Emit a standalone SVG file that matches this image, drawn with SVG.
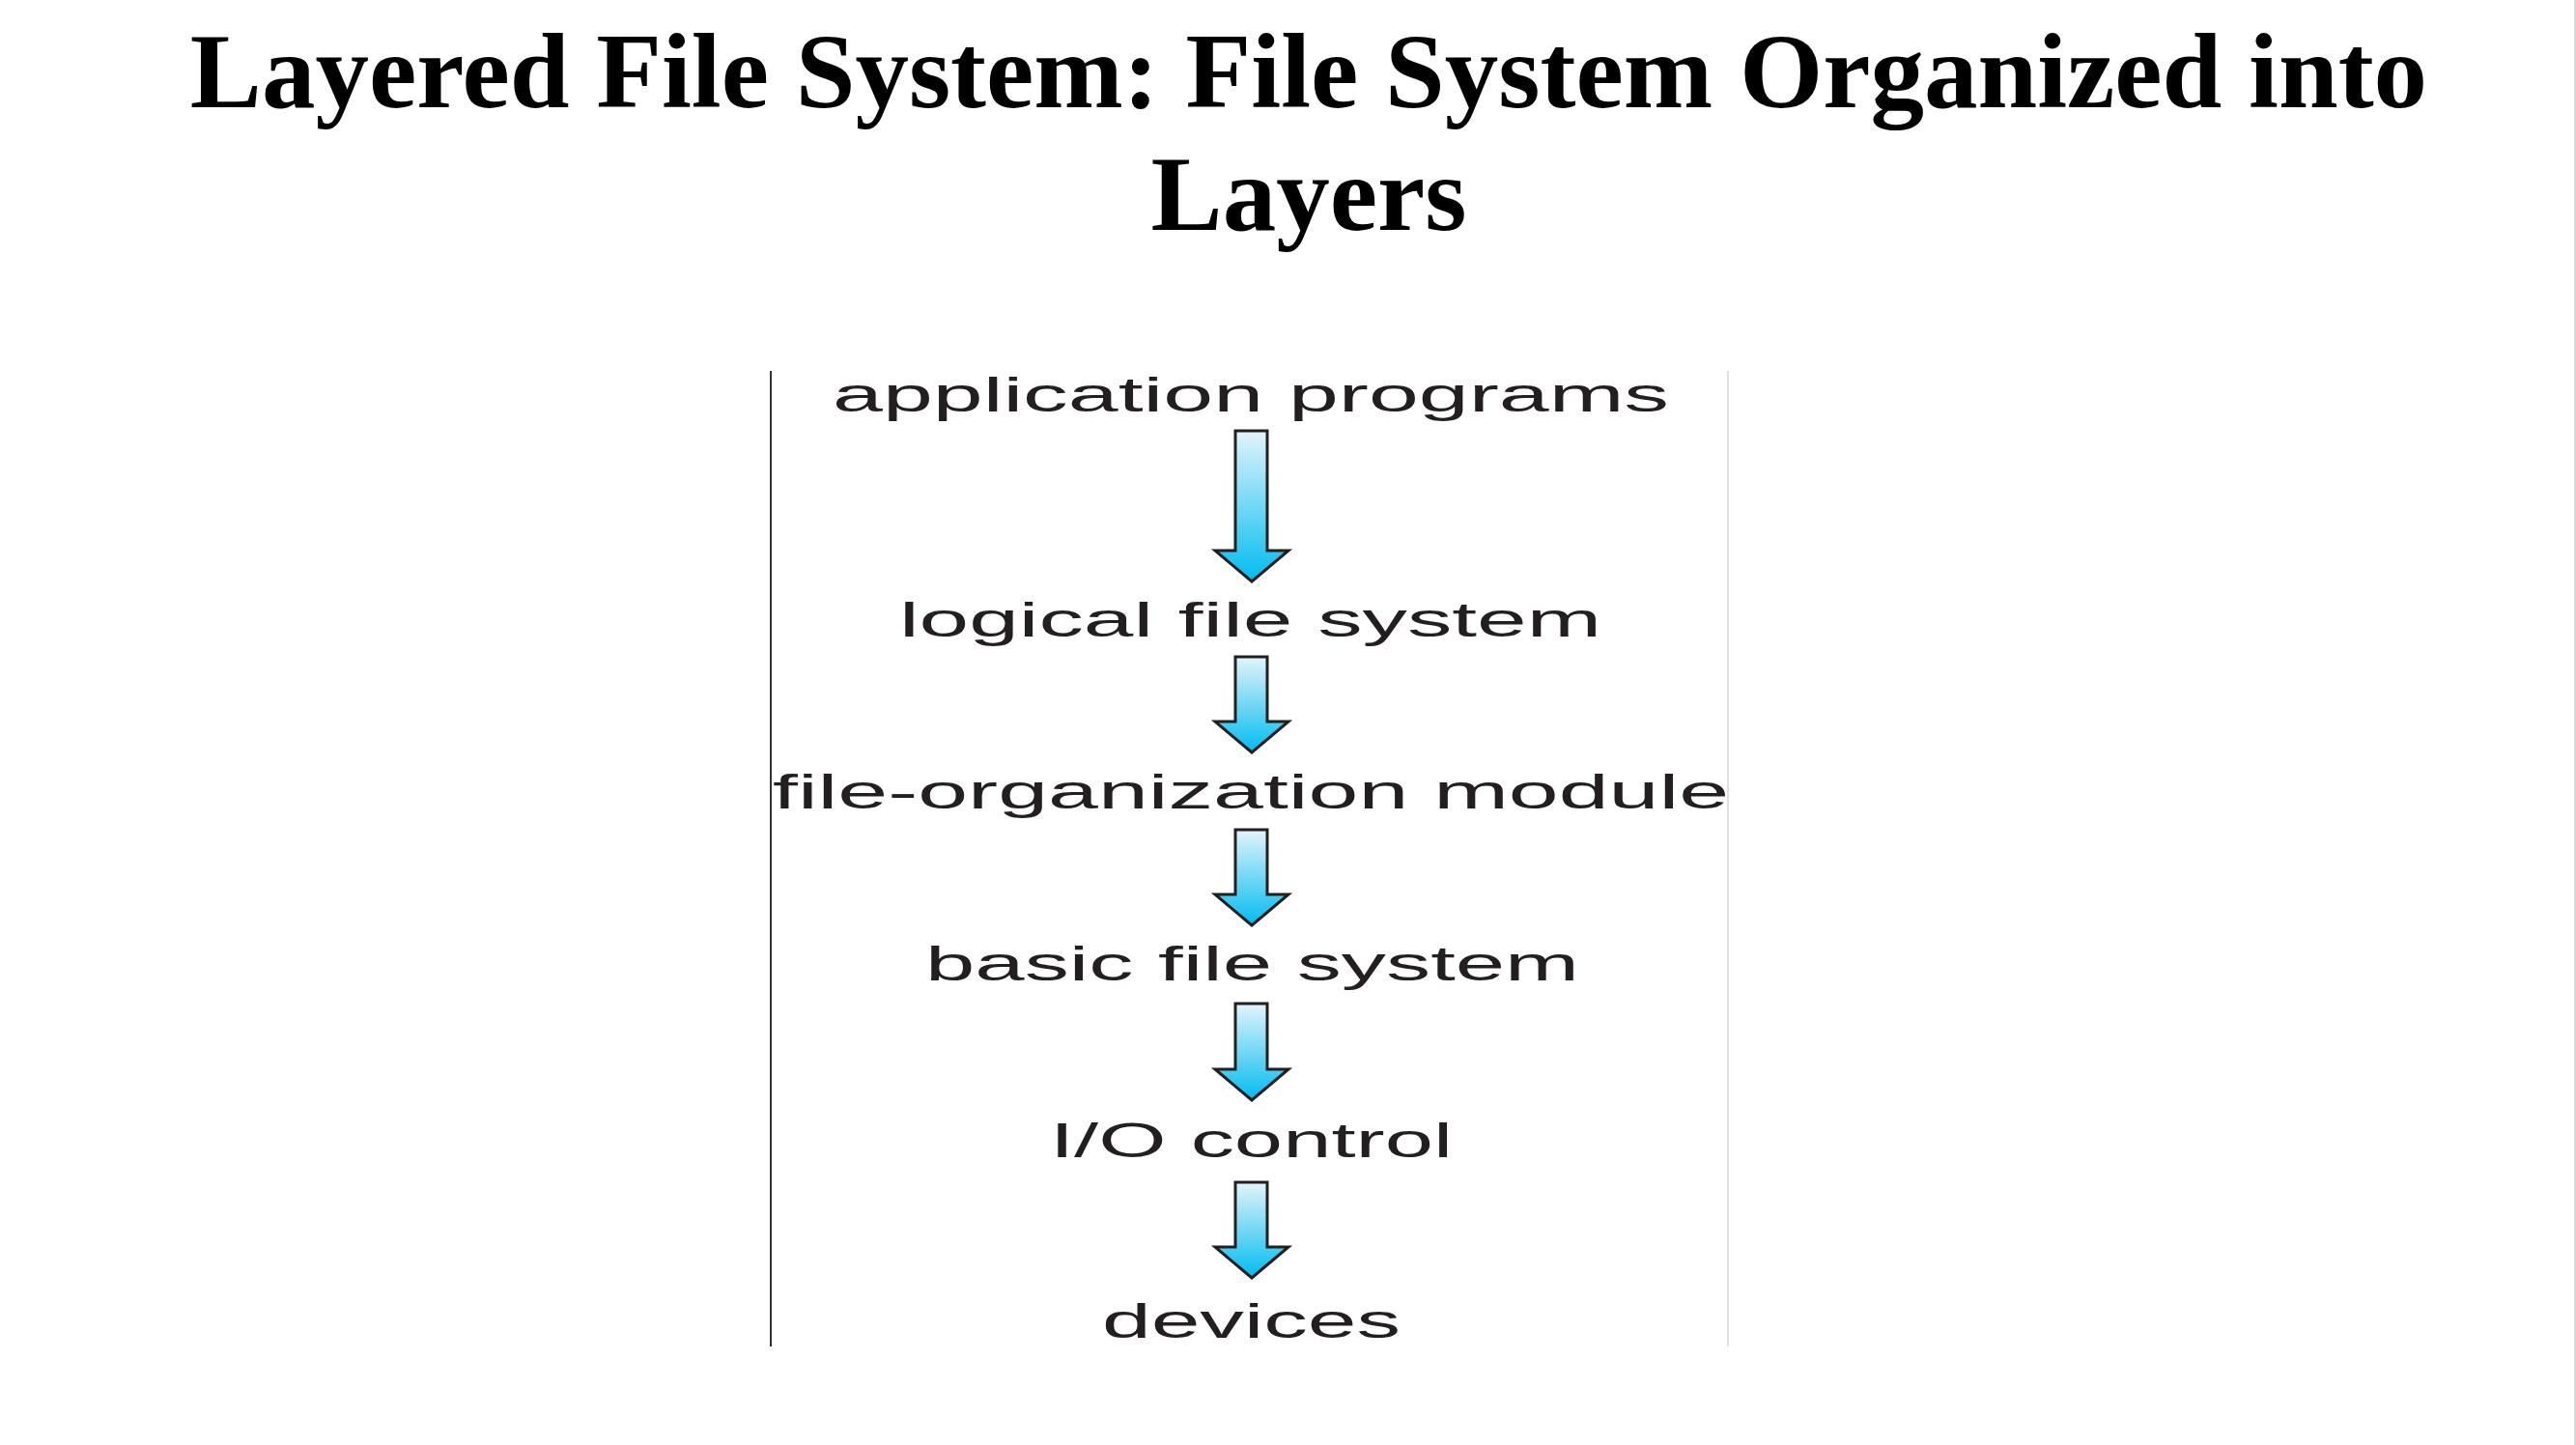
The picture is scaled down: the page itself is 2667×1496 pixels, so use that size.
<svg xmlns="http://www.w3.org/2000/svg" width="2667" height="1496" viewBox="0 0 2667 1496">
<defs>
<linearGradient id="ag" x1="0" y1="0" x2="0" y2="1">
<stop offset="0" stop-color="#e3f4fc"/>
<stop offset="1" stop-color="#00bcef"/>
</linearGradient>
<style>
.title{font-family:"Liberation Serif","Times New Roman",serif;font-weight:bold;font-size:111px;fill:#000;text-anchor:middle}
.lbl{font-family:"Liberation Sans",Arial,sans-serif;font-size:50px;fill:#231f20}
.arr{fill:url(#ag);stroke:#231f20;stroke-width:3;stroke-linejoin:miter}
</style>
</defs>
<rect width="2667" height="1496" fill="#ffffff"/>
<g id="title">
<text class="title" x="1355" y="111">Layered File System: File System Organized into</text>
<text class="title" x="1355" y="238">Layers</text>
</g>
<g id="frame">
<line x1="798" y1="384" x2="798" y2="1394" stroke="#333" stroke-width="2"/>
<line x1="1789" y1="384" x2="1789" y2="1394" stroke="#e0e0e0" stroke-width="2"/>
<line x1="2666" y1="0" x2="2666" y2="1496" stroke="#d9d9d9" stroke-width="2"/>
</g>
<g id="n1"><text class="lbl" x="862" y="426" textLength="866" lengthAdjust="spacingAndGlyphs">application programs</text></g>
<g id="n2"><text class="lbl" x="931" y="659" textLength="727" lengthAdjust="spacingAndGlyphs">logical file system</text></g>
<g id="n3"><text class="lbl" x="800" y="837" textLength="990" lengthAdjust="spacingAndGlyphs">file-organization module</text></g>
<g id="n4"><text class="lbl" x="958" y="1015" textLength="677" lengthAdjust="spacingAndGlyphs">basic file system</text></g>
<g id="n5"><text class="lbl" x="1087" y="1198" textLength="417" lengthAdjust="spacingAndGlyphs">I/O control</text></g>
<g id="n6"><text class="lbl" x="1141" y="1385" textLength="309" lengthAdjust="spacingAndGlyphs">devices</text></g>
<g id="connectors">
<path class="arr" d="M1279 446 H1312 V570 H1334 L1296 602 L1258 570 H1279 Z"/>
<path class="arr" d="M1279 680 H1312 V747 H1334 L1296 779 L1258 747 H1279 Z"/>
<path class="arr" d="M1279 859 H1312 V926 H1334 L1296 958 L1258 926 H1279 Z"/>
<path class="arr" d="M1279 1039 H1312 V1107 H1334 L1296 1139 L1258 1107 H1279 Z"/>
<path class="arr" d="M1279 1224 H1312 V1291 H1334 L1296 1323 L1258 1291 H1279 Z"/>
</g>
</svg>
